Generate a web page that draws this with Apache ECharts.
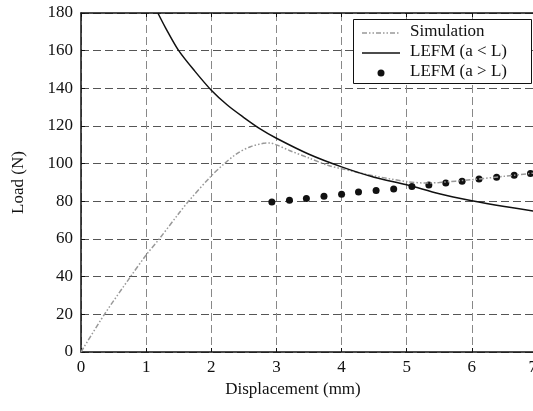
<!DOCTYPE html>
<html><head><meta charset="utf-8">
<script src="https://cdn.jsdelivr.net/npm/echarts@6/dist/echarts.min.js"></script>
<style>html,body{margin:0;padding:0;background:#fff}#c{width:533px;height:411px}</style>
</head><body><div id="c"></div>
<script>
const xTicks = [0,1,2,3,4,5,6,7];
const yTicks = [0,20,40,60,80,100,120,140,160,180];

const simX = [0, 0.36, 0.76, 1.0, 1.2, 1.5, 1.65, 2.0, 2.2, 2.4, 2.6, 2.8, 2.9, 3.0, 3.2, 3.5, 3.8, 4.0, 4.5, 5.0, 5.3, 5.5, 6.0, 6.5, 7.0];
const simY = [0, 20, 40, 51.5, 60, 73.5, 80, 93.5, 100, 105.5, 109, 110.8, 111, 110, 107, 103, 99, 97.3, 93.5, 90.5, 89.7, 90, 91.5, 93.3, 95.2];

const lefmLX = [1.18, 1.3, 1.5, 1.75, 2.0, 2.25, 2.5, 2.75, 3.0, 3.5, 4.0, 4.5, 5.0, 5.5, 6.0, 6.5, 7.0];
const lefmLY = [180, 172, 160, 149, 139, 131, 124.5, 118.5, 113.5, 105, 98.3, 92.8, 88.8, 84, 80.3, 77.2, 74.5];

const lefmGX = [2.93, 3.20, 3.46, 3.73, 4.00, 4.26, 4.53, 4.80, 5.08, 5.34, 5.60, 5.85, 6.11, 6.38, 6.65, 6.90];
const lefmGY = [79.7, 80.6, 81.5, 82.7, 83.8, 84.9, 85.8, 86.6, 87.9, 88.7, 89.8, 90.7, 91.8, 92.8, 93.9, 94.8];

const names = ['Simulation', 'LEFM (a < L)', 'LEFM (a > L)'];
const pairs = (xs, ys) => xs.map((x, i) => [x, ys[i]]);

const FONT = 'Liberation Serif';
const FS = 17;
const SIM_DASH = [5, 2, 1.5, 2, 1.5, 2];
const txt = (y, s) => ({type: 'text', left: 410, top: y - 10, z: 101,
  style: {text: s, fontFamily: FONT, fontSize: 17, fill: '#111'}});

const chart = echarts.init(document.getElementById('c'), null, {renderer: 'canvas'});
chart.setOption({
  animation: false,
  backgroundColor: '#fff',
  grid: {left: 81, width: 456, top: 13, height: 339, show: false,
         containLabel: false, outerBoundsMode: 'none'},
  graphic: [
    {type: 'rect', shape: {x: 353.5, y: 19.5, width: 178, height: 64},
      style: {fill: '#fff', stroke: '#111', lineWidth: 1}, z: 100},
    {type: 'line', shape: {x1: 362, y1: 33, x2: 400, y2: 33},
      style: {stroke: '#999', lineWidth: 1.5, lineDash: SIM_DASH}, z: 101},
    {type: 'line', shape: {x1: 362, y1: 53, x2: 400, y2: 53},
      style: {stroke: '#111', lineWidth: 1.5}, z: 101},
    {type: 'circle', shape: {cx: 381, cy: 73, r: 3.5},
      style: {fill: '#111'}, z: 101},
    txt(33, names[0]),
    txt(53, names[1]),
    txt(73, names[2])
  ],
  xAxis: [{
    type: 'value', min: 0, max: 7, interval: 1,
    name: 'Displacement (mm)', nameLocation: 'middle', nameGap: 29,
    nameTextStyle: {fontFamily: FONT, fontSize: FS, color: '#111', padding: [0, 32, 0, 0]},
    axisLine: {show: true, onZero: false, lineStyle: {color: '#111', width: 1.5}},
    axisTick: {show: true, inside: true, length: 4, lineStyle: {color: '#111'}},
    axisLabel: {fontFamily: FONT, fontSize: FS, color: '#111', margin: 7,
      showMaxLabel: true, showMinLabel: true, hideOverlap: false,
      alignMaxLabel: 'right',
      formatter: v => xTicks.includes(v) ? String(v) : ''},
    splitLine: {show: true, lineStyle: {color: '#888', type: [8, 4], width: 1}}
  }, {
    type: 'value', min: 0, max: 7, interval: 1, position: 'top',
    axisLine: {show: true, onZero: false, lineStyle: {color: '#111', width: 1.5}},
    axisTick: {show: true, inside: true, length: 4, lineStyle: {color: '#111'}},
    axisLabel: {show: false}, splitLine: {show: false}
  }],
  yAxis: {
    type: 'value', min: 0, max: 180, interval: 20,
    name: 'Load (N)', nameLocation: 'middle', nameGap: 54, nameRotate: 90,
    nameTextStyle: {fontFamily: FONT, fontSize: FS, color: '#111'},
    axisLine: {show: true, onZero: false, lineStyle: {color: '#111', width: 1.5}},
    axisTick: {show: true, inside: true, length: 4, lineStyle: {color: '#111'}},
    axisLabel: {fontFamily: FONT, fontSize: FS, color: '#111', margin: 8,
      formatter: v => yTicks.includes(v) ? String(v) : ''},
    splitLine: {show: true, lineStyle: {color: '#555', type: [8, 4], width: 1}}
  },
  series: [
    {
      name: names[0], type: 'line', data: pairs(simX, simY), smooth: 0.3,
      symbol: 'none', clip: true,
      lineStyle: {color: '#999', width: 1.5, type: SIM_DASH}
    },
    {
      name: names[1], type: 'line', data: pairs(lefmLX, lefmLY), smooth: 0.3,
      symbol: 'none', clip: true,
      lineStyle: {color: '#111', width: 1.5}
    },
    {
      name: names[2], type: 'scatter', data: pairs(lefmGX, lefmGY),
      symbol: 'circle', symbolSize: 7,
      itemStyle: {color: '#111', opacity: 1}
    }
  ]
});
</script></body></html>
